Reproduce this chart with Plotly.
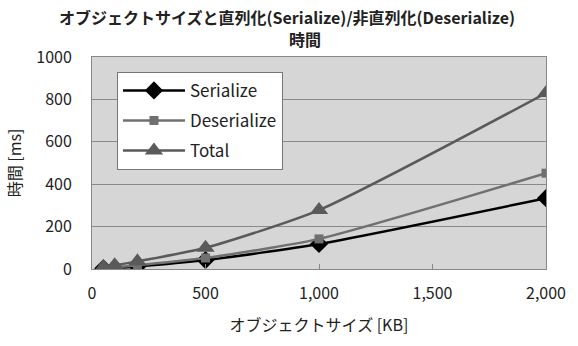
import plotly.graph_objects as go

# Object size [KB] and measured times [ms]
sizes_kb = [50, 100, 200, 500, 1000, 2000]
serialize_ms = [3, 5, 12, 42, 118, 334]
deserialize_ms = [4, 8, 18, 52, 142, 452]
total_ms = [10, 18, 36, 100, 278, 830]

series = [
    ("Serialize", serialize_ms, "#000000", "diamond", 14),
    ("Deserialize", deserialize_ms, "#707070", "square", 9),
    ("Total", total_ms, "#5a5a5a", "triangle-up", 16),
]

title_lines = ["オブジェクトサイズと直列化(Serialize)/非直列化(Deserialize)", "時間"]

FONT = "Noto Sans CJK JP, Noto Sans, sans-serif"

fig = go.Figure()
for name, ys, color, symbol, msize in series:
    fig.add_trace(go.Scatter(
        x=sizes_kb, y=ys, name=name, legendgroup=name, mode="lines+markers",
        line=dict(color=color, width=2.5, shape="spline", smoothing=0.6),
        marker=dict(symbol=symbol, size=msize, color=color),
    ))

# Two-line chart title
for text, xpos, ypos in zip(title_lines, [0.43, 0.47], [1.19, 1.085]):
    fig.add_annotation(
        text=f"<b>{text}</b>", xref="paper", yref="paper",
        x=xpos, y=ypos, xanchor="center", yanchor="middle", showarrow=False,
        font=dict(family=FONT, size=16, color="#222222"),
    )

fig.update_layout(
    width=578, height=346,
    margin=dict(l=92, r=21, t=57, b=77),
    paper_bgcolor="white",
    plot_bgcolor="#d6d6d6",
    font=dict(family=FONT, size=16, color="#222222"),
    showlegend=True,
    legend=dict(
        x=0.055, y=0.93, xanchor="left", yanchor="top",
        bgcolor="white", bordercolor="#777777", borderwidth=1,
        font=dict(family=FONT, size=17, color="#222222"),
        itemwidth=62, tracegroupgap=5,
    ),
    xaxis=dict(
        range=[0, 2000], tickvals=[0, 500, 1000, 1500, 2000],
        tickformat=",", showgrid=False, zeroline=False,
        showline=True, linecolor="#888888", mirror=True,
        ticks="inside", ticklen=5, tickcolor="#888888",
        title=dict(text="オブジェクトサイズ [KB]", standoff=16,
                   font=dict(family=FONT, size=16)),
        tickfont=dict(size=16), ticklabelstandoff=10,
    ),
    yaxis=dict(
        range=[0, 1000], dtick=200, showgrid=True, gridcolor="#8a8a8a",
        gridwidth=1, zeroline=False,
        showline=True, linecolor="#888888", mirror=True,
        title=dict(text="時間 [ms]", standoff=10,
                   font=dict(family=FONT, size=16)),
        tickfont=dict(size=16), ticklabelstandoff=16,
    ),
)

fig.write_html("out.html")
